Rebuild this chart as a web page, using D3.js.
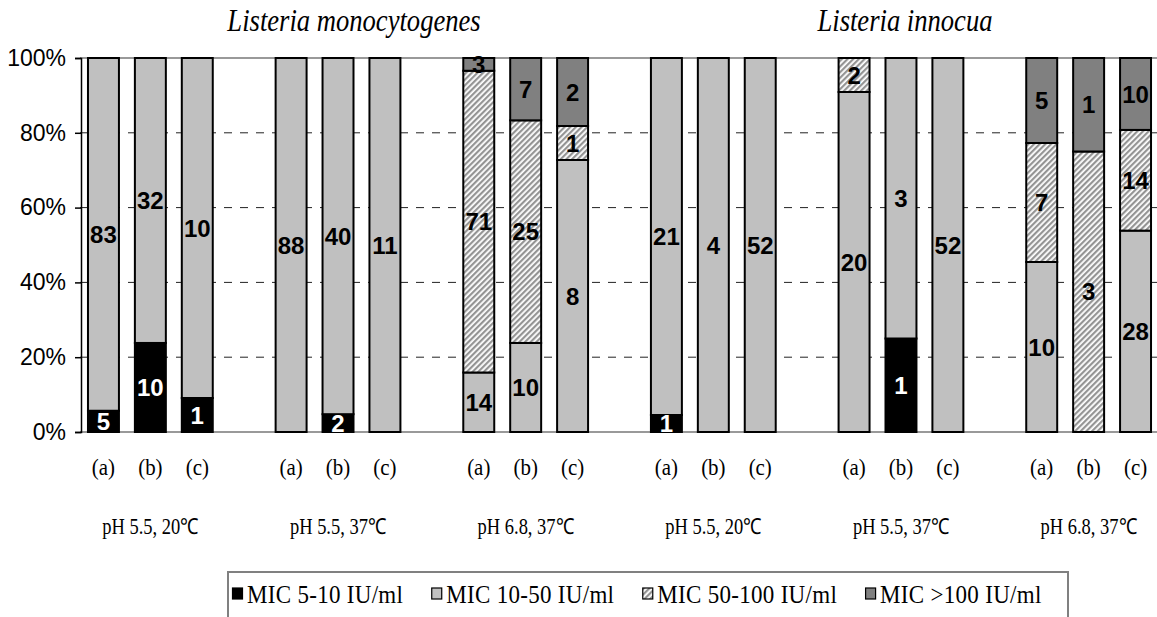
<!DOCTYPE html>
<html>
<head>
<meta charset="utf-8">
<script src="https://cdn.jsdelivr.net/npm/d3@7"></script>
<style>
  body { margin: 0; background: #fff; }
  svg { display: block; }
</style>
</head>
<body>
<div class="canvas"></div>
<script>
// data
const species = ["Listeria monocytogenes", "Listeria innocua"];
const groups = ["pH 5.5, 20\u2103", "pH 5.5, 37\u2103", "pH 6.8, 37\u2103", "pH 5.5, 20\u2103", "pH 5.5, 37\u2103", "pH 6.8, 37\u2103"];
const subLabels = ["(a)", "(b)", "(c)"];
const series = ["MIC 5-10 IU/ml", "MIC 10-50 IU/ml", "MIC 50-100 IU/ml", "MIC >100 IU/ml"];
const mic5to10 = [5, 10, 1, 0, 2, 0, 0, 0, 0, 1, 0, 0, 0, 1, 0, 0, 0, 0];
const mic10to50 = [83, 32, 10, 88, 40, 11, 14, 10, 8, 21, 4, 52, 20, 3, 52, 10, 0, 28];
const mic50to100 = [0, 0, 0, 0, 0, 0, 71, 25, 1, 0, 0, 0, 2, 0, 0, 7, 3, 14];
const micOver100 = [0, 0, 0, 0, 0, 0, 3, 7, 2, 0, 0, 0, 0, 0, 0, 5, 1, 10];
const yTicks = [0, 0.2, 0.4, 0.6, 0.8, 1];

const width = 1157;
const height = 617;
const margins = { top: 58, left: 80, bottom: 185 };
const plotRight = 1159;
const graphHeight = height - margins.top - margins.bottom;
const serif = "Liberation Serif, Times New Roman, serif";
const sans = "Liberation Sans, Arial, sans-serif";

const svg = d3
  .select(".canvas")
  .append("svg")
  .attr("width", width)
  .attr("height", height);

// hatch pattern
const defs = svg.append("defs");
const hatch = defs
  .append("pattern")
  .attr("id", "hatch")
  .attr("patternUnits", "userSpaceOnUse")
  .attr("width", 4)
  .attr("height", 4)
  .attr("patternTransform", "rotate(45)");
hatch.append("rect").attr("width", 4).attr("height", 4).attr("fill", "#fff");
hatch.append("rect").attr("width", 2.2).attr("height", 4).attr("fill", "#949494");

const fills = ["#000000", "#c0c0c0", "url(#hatch)", "#808080"];
const labelColors = ["#fff", "#000", "#000", "#000"];

// rows
const seriesValues = [mic5to10, mic10to50, mic50to100, micOver100];
const rows = [];
const slots = [];
groups.forEach((g, gi) => {
  if (gi > 0) slots.push("gap" + gi);
  subLabels.forEach((s, si) => {
    const i = gi * 3 + si;
    const key = gi + "-" + si;
    slots.push(key);
    const counts = seriesValues.map((arr) => arr[i]);
    rows.push({ key, group: gi, sub: s, counts, total: d3.sum(counts) });
  });
});

// scales
const x = d3
  .scaleBand()
  .domain(slots)
  .range([margins.left, plotRight])
  .paddingInner(0.34)
  .paddingOuter(0.17);
const y = d3.scaleLinear().domain([0, 1]).range([margins.top + graphHeight, margins.top]);
const cx = (key) => x(key) + x.bandwidth() / 2;

// gridlines
svg
  .append("g")
  .selectAll("line")
  .data(yTicks.filter((t) => t > 0 && t < 1))
  .enter()
  .append("line")
  .attr("x1", margins.left)
  .attr("x2", width)
  .attr("y1", (d) => y(d))
  .attr("y2", (d) => y(d))
  .attr("stroke", "#222")
  .attr("stroke-width", 1)
  .attr("stroke-dasharray", "8,8");

// plot borders top / bottom
svg
  .append("g")
  .selectAll("line")
  .data([0, 1])
  .enter()
  .append("line")
  .attr("x1", margins.left)
  .attr("x2", width)
  .attr("y1", (d) => y(d))
  .attr("y2", (d) => y(d))
  .attr("stroke", "#999")
  .attr("stroke-width", 2);

// stacked bars
const stack = (r) => {
  let acc = 0;
  return r.counts.map((c, si) => {
    const y0 = acc / r.total;
    acc += c;
    return { si, c, y0, y1: acc / r.total, key: r.key };
  });
};

const barGroups = svg
  .append("g")
  .selectAll("g")
  .data(rows)
  .enter()
  .append("g");

barGroups
  .selectAll("rect")
  .data((r) => stack(r).filter((d) => d.c > 0))
  .enter()
  .append("rect")
  .attr("x", (d) => x(d.key))
  .attr("width", x.bandwidth())
  .attr("y", (d) => y(d.y1))
  .attr("height", (d) => y(d.y0) - y(d.y1))
  .attr("fill", (d) => fills[d.si])
  .attr("stroke", "#000")
  .attr("stroke-width", 2);

barGroups
  .selectAll("text")
  .data((r) => stack(r).filter((d) => d.c > 0))
  .enter()
  .append("text")
  .attr("x", (d) => cx(d.key))
  .attr("y", (d) => y((d.y0 + d.y1) / 2))
  .attr("dy", "0.36em")
  .attr("text-anchor", "middle")
  .attr("font-family", sans)
  .attr("font-weight", "bold")
  .attr("font-size", 24)
  .attr("fill", (d) => labelColors[d.si])
  .text((d) => d.c);

// y axis
const yAxis = d3
  .axisLeft(y)
  .tickValues(yTicks)
  .tickSize(6)
  .tickPadding(9)
  .tickFormat(d3.format(".0%"));
const yAxisGroup = svg
  .append("g")
  .attr("transform", `translate(${margins.left + 1}, 0)`)
  .call(yAxis);
yAxisGroup.select(".domain").attr("stroke", "#000").attr("stroke-width", 1.5);
yAxisGroup.selectAll(".tick line").attr("stroke", "#000").attr("stroke-width", 1.5);
yAxisGroup
  .selectAll("text")
  .attr("font-family", sans)
  .attr("font-size", 23)
  .attr("fill", "#000");

// x labels
svg
  .append("g")
  .selectAll("text")
  .data(rows)
  .enter()
  .append("text")
  .attr("transform", (d) => `translate(${cx(d.key)}, 475) scale(0.95, 1.05)`)
  .attr("text-anchor", "middle")
  .attr("font-family", serif)
  .attr("font-size", 22)
  .text((d) => d.sub);

svg
  .append("g")
  .selectAll("text")
  .data(groups)
  .enter()
  .append("text")
  .attr("transform", (d, i) => `translate(${cx(i + "-1")}, 534) scale(0.88, 1.05)`)
  .attr("text-anchor", "middle")
  .attr("font-family", serif)
  .attr("font-size", 21)
  .text((d) => d);

// species titles
svg
  .append("g")
  .selectAll("text")
  .data(species)
  .enter()
  .append("text")
  .attr("transform", (d, i) =>
    `translate(${cx(i * 3 + 1 + "-1") + (i === 0 ? 16 : 4)}, 31) scale(0.95, 1.1)`)
  .attr("text-anchor", "middle")
  .attr("font-family", serif)
  .attr("font-style", "italic")
  .attr("font-size", 28)
  .text((d) => d);

// legend
const legend = svg.append("g");
legend
  .append("rect")
  .attr("x", 228)
  .attr("y", 572)
  .attr("width", 840)
  .attr("height", 60)
  .attr("fill", "#fff")
  .attr("stroke", "#808080")
  .attr("stroke-width", 2);

let lx = 232;
series.forEach((s, i) => {
  const item = legend.append("g").attr("transform", `translate(${lx}, 0)`);
  item
    .append("rect")
    .attr("x", 0.5)
    .attr("y", 588)
    .attr("width", 10)
    .attr("height", 11)
    .attr("fill", fills[i])
    .attr("stroke", "#000")
    .attr("stroke-width", 1.2);
  const t = item
    .append("text")
    .attr("transform", "translate(15, 603) scale(1, 1.05)")
    .attr("font-family", serif)
    .attr("font-size", 23)
    .attr("letter-spacing", 0.3)
    .text(s);
  lx += 15 + t.node().getComputedTextLength() + 28;
});
</script>
</body>
</html>
